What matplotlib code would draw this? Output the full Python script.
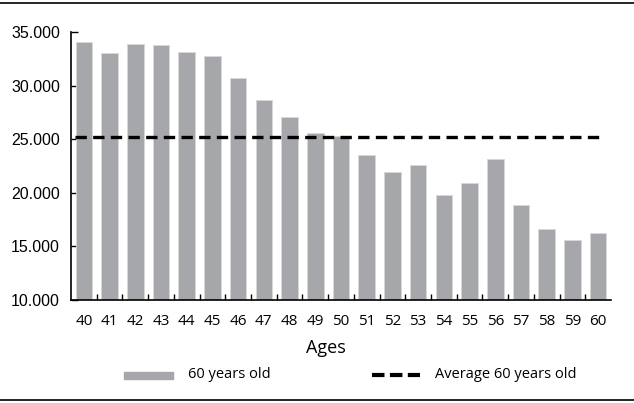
import matplotlib
matplotlib.use("Agg")
import matplotlib.pyplot as plt
from matplotlib.lines import Line2D
from matplotlib.patches import Rectangle
from matplotlib.ticker import FuncFormatter

ages = [str(a) for a in range(40, 61)]
values = [34040, 33070, 33880, 33760, 33130, 32790, 30680, 28660, 27040, 25610,
          25300, 23530, 21910, 22560, 19790, 20940, 23150, 18890, 16650, 15600, 16220]
average = 25230
yticks = [10000, 15000, 20000, 25000, 30000, 35000]
bar_label = "60 years old"
avg_label = "Average 60 years old"

W, H = 634, 403
fig = plt.figure(figsize=(W / 100, H / 100), dpi=100)
ax = fig.add_axes([71 / W, 1 - 300 / H, (611 - 71) / W, (300 - 32) / H])

bar_color = "#a6a7aa"
x = list(range(len(ages)))
ax.bar(x, values, width=0.64, color=bar_color, edgecolor="#d8d8d8", linewidth=0.6, zorder=2)
ax.plot([-0.34, len(ages) - 0.73], [average, average], color="black", lw=2.4,
        dashes=(3.4, 1.9), zorder=3)

ax.set_xlim(-0.5, len(ages) - 0.5)
ax.set_ylim(10000, 35000)
ax.set_yticks(yticks)
ax.yaxis.set_major_formatter(FuncFormatter(lambda v, p: f"{int(v):,}".replace(",", ".")))
ax.set_xticks(x)
ax.set_xticklabels(ages)
ax.set_xticks([i + 0.5 for i in x[:-1]], minor=True)
ax.tick_params(axis="x", which="major", length=0, pad=10, labelsize=11)
ax.tick_params(axis="x", which="minor", length=4, direction="in", width=1)
ax.tick_params(axis="y", length=5, direction="in", width=1, pad=8, labelsize=11)
for lab in ax.get_xticklabels():
    lab.set_fontfamily("Open Sans")
for lab in ax.get_yticklabels():
    lab.set_fontfamily("Liberation Sans")
    lab.set_fontsize(11.5)
for s in ["top", "right"]:
    ax.spines[s].set_visible(False)
for s in ["left", "bottom"]:
    ax.spines[s].set_linewidth(1.2)

fig.text(326 / W, 1 - 348 / H, "Ages", ha="center", va="center", fontsize=13,
         family="Open Sans")

# legend
fig.add_artist(Rectangle((124 / W, 1 - 379 / H), 49 / W, 7 / H, color=bar_color,
                         transform=fig.transFigure))
fig.text(188 / W, 1 - 375 / H, bar_label, ha="left", va="center", fontsize=10.5,
         family="Open Sans")
fig.add_artist(Line2D([372 / W, 420 / W], [1 - 375 / H, 1 - 375 / H], color="black",
                      lw=3, dashes=(3, 1.3), transform=fig.transFigure))
fig.text(435 / W, 1 - 375 / H, avg_label, ha="left", va="center", fontsize=10.5,
         family="Open Sans")

# frame lines
fig.add_artist(Line2D([0, 1], [1 - 2.5 / H, 1 - 2.5 / H], color="black", lw=1.2,
                      transform=fig.transFigure))
fig.add_artist(Line2D([0, 1], [1 - 400 / H, 1 - 400 / H], color="black", lw=1.2,
                      transform=fig.transFigure))

fig.savefig("out.png", dpi=100)
